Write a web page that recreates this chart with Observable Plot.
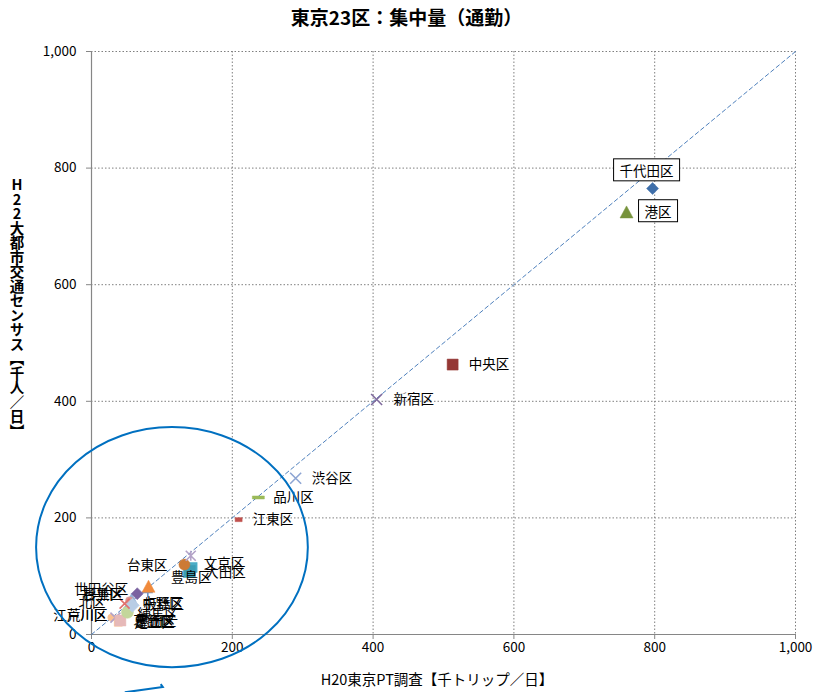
<!DOCTYPE html>
<html><head><meta charset="utf-8">
<script src="https://cdn.jsdelivr.net/npm/d3@7"></script>
<script src="https://cdn.jsdelivr.net/npm/@observablehq/plot@0.6"></script>
<style>
body{margin:0;background:#fff;font-family:"Noto Sans CJK JP","Noto Sans",sans-serif;}
#title{height:36px;line-height:34px;text-align:center;font-size:19px;font-weight:bold;color:#000;width:813px;}
#chart svg{overflow:visible;display:block;}
</style></head><body>
<div id="title">東京23区：集中量（通勤）</div>
<div id="chart"></div>
<script>
// ---- data ----
const wards = ["千代田区","中央区","港区","新宿区","文京区","台東区","墨田区","江東区","品川区","目黒区","大田区","世田谷区","渋谷区","中野区","杉並区","豊島区","北区","荒川区","板橋区","練馬区","足立区","葛飾区","江戸川区"];
const ptSurvey = [797,513,760,405,141,132,80,209,237,57,143,65,290,58,54,139,47,34,81,51,38,41,28];
const census   = [765,463,724,403,135,120,72,197,235,62,115,70,268,50,58,108,53,29,82,38,21,24,29];
const tickValues = [0,200,400,600,800,1000];
const xLabel = "H20東京PT調査【千トリップ／日】";
const yLabel = "H22大都市交通センサス【千人／日】";

const data = wards.map((ward,i)=>({ward, x: ptSurvey[i], y: census[i]}));

// ---- marker shapes ----
const S = {
  diamond: k => ({draw(c){c.moveTo(0,-k);c.lineTo(k,0);c.lineTo(0,k);c.lineTo(-k,0);c.closePath();}}),
  square: k => ({draw(c){c.rect(-k,-k,2*k,2*k);}}),
  triangle: k => ({draw(c){c.moveTo(0,-k);c.lineTo(k,k*0.85);c.lineTo(-k,k*0.85);c.closePath();}}),
  circle: k => ({draw(c){c.moveTo(k,0);c.arc(0,0,k,0,2*Math.PI);}}),
  times: k => ({draw(c){c.moveTo(-k,-k);c.lineTo(k,k);c.moveTo(k,-k);c.lineTo(-k,k);}}),
  plus: k => ({draw(c){c.moveTo(-k,0);c.lineTo(k,0);c.moveTo(0,-k);c.lineTo(0,k);}}),
  asterisk: k => ({draw(c){c.moveTo(-k,-k);c.lineTo(k,k);c.moveTo(k,-k);c.lineTo(-k,k);c.moveTo(0,-k);c.lineTo(0,k);}}),
  dash: (w,h) => ({draw(c){c.rect(-w,-h,2*w,2*h);}})
};
// [shape, filled, color]
const style = {
  "千代田区":[S.diamond(6),true,"#3F6FAA"],
  "中央区":[S.square(5.5),true,"#953735"],
  "港区":[S.triangle(6.5),true,"#77933C"],
  "新宿区":[S.times(5.5),false,"#7F6A9E"],
  "文京区":[S.asterisk(5),false,"#B3A2C7"],
  "台東区":[S.circle(5.5),true,"#CC7A35"],
  "墨田区":[S.plus(5),false,"#6E93C8"],
  "江東区":[S.dash(3.5,2),true,"#C0504D"],
  "品川区":[S.dash(6,1.5),true,"#9BBB59"],
  "目黒区":[S.triangle(5),true,"#95B3D7"],
  "大田区":[S.square(5),true,"#4BACC6"],
  "世田谷区":[S.diamond(6),true,"#7A62A0"],
  "渋谷区":[S.times(5.5),false,"#8EA5D3"],
  "中野区":[S.diamond(7),true,"#B9CDE5"],
  "杉並区":[S.circle(4),true,"#D99694"],
  "豊島区":[S.square(6),true,"#3C9DB5"],
  "北区":[S.times(5),false,"#E0706C"],
  "荒川区":[S.times(5),false,"#B3A2C7"],
  "板橋区":[S.triangle(6.5),true,"#F08A3C"],
  "練馬区":[S.circle(6),true,"#C3D69B"],
  "足立区":[S.square(4),true,"#FAC090"],
  "葛飾区":[S.square(5.5),true,"#E6B9B8"],
  "江戸川区":[S.circle(3.5),true,"#FAC090"]
};
// label placement: [anchor, dx, dy, boxed]
const place = {
  "千代田区":["middle",-6,-17,true],
  "港区":["start",18,0,true],
  "中央区":["start",16,0],
  "新宿区":["start",17,0],
  "渋谷区":["start",16,0],
  "品川区":["start",15,0],
  "江東区":["start",14,0],
  "文京区":["start",13,8],
  "台東区":["end",-17,1],
  "豊島区":["middle",2,6],
  "大田区":["start",13,5],
  "世田谷区":["end",-9,-4],
  "目黒区":["end",-9,-4],
  "杉並区":["end",-6,-6],
  "北区":["end",-19,-1],
  "中野区":["start",10,-2],
  "板橋区":["start",-5,18],
  "練馬区":["start",10,2],
  "葛飾区":["start",13,1],
  "墨田区":["start",-12,29],
  "足立区":["start",16,0],
  "荒川区":["end",-8,-2],
  "江戸川区":["end",-4,-2]
};
const drawOrder = ["大田区","目黒区","杉並区","足立区","江戸川区","荒川区","葛飾区","練馬区","中野区","北区","墨田区","板橋区","世田谷区","豊島区","台東区","文京区","江東区","品川区","渋谷区","新宿区","中央区","港区","千代田区"];

const dotMarks = drawOrder.map(w => {
  const d = data.find(e => e.ward === w);
  const [sym, filled, color] = style[w];
  return Plot.dot([d], {x:"x", y:"y", symbol: sym, r: 5,
    fill: filled ? color : "none", stroke: color, strokeWidth: filled ? 0.5 : 1.6});
});
const textMarks = data.map(d => {
  const [anchor, dx, dy, boxed] = place[d.ward];
  return Plot.text([d], {x:"x", y:"y", text:"ward", textAnchor: anchor, dx, dy,
    fontSize: 13.5, fill:"#000", className: boxed ? "boxed" : undefined});
});

// annotation ellipse (data coordinates)
const ellipse = {cx:115, cy:149, rx:193, ry:206};
const annotation = (index, {x, y}) => {
  const g = d3.create("svg:g");
  g.append("ellipse")
    .attr("cx", x(ellipse.cx)).attr("cy", y(ellipse.cy))
    .attr("rx", x(ellipse.cx + ellipse.rx) - x(ellipse.cx))
    .attr("ry", y(ellipse.cy) - y(ellipse.cy + ellipse.ry))
    .attr("fill","none").attr("stroke","#0070C0").attr("stroke-width",2);
  g.append("path")
    .attr("d", `M${x(48)},${y(-100)} L${x(102)},${y(-91)} L${x(99)},${y(-86)}`)
    .attr("fill","none").attr("stroke","#0070C0").attr("stroke-width",2);
  return g.node();
};

const diag = [0,1000];
const chart = Plot.plot({
  width: 813, height: 656,
  marginLeft: 91, marginRight: 18, marginTop: 15, marginBottom: 58,
  x: {domain:[0,1000]},
  y: {domain:[0,1000]},
  style: {fontFamily:'"Noto Sans CJK JP","Noto Sans",sans-serif', fontSize:"13px", color:"#000", background:"#fff"},
  marks: [
    Plot.gridX({ticks: tickValues.slice(1), stroke:"#7f7f7f", strokeOpacity:1, strokeDasharray:"1.5,2"}),
    Plot.gridY({ticks: tickValues.slice(1), stroke:"#7f7f7f", strokeOpacity:1, strokeDasharray:"1.5,2"}),
    Plot.axisX({ticks: tickValues, tickFormat: d3.format(","), tickSize: 5, tickPadding: 3, label: null, stroke:"#868686", fontSize: 13.5}),
    Plot.axisY({ticks: tickValues, tickFormat: d3.format(","), tickSize: 5, tickPadding: 10, label: null, stroke:"#868686", fontSize: 13.5}),
    Plot.ruleX([0], {stroke:"#868686", strokeWidth: 1.2}),
    Plot.ruleY([0], {stroke:"#868686", strokeWidth: 1.2}),
    Plot.line(diag, {x: d=>d, y: d=>d, stroke:"#4F81BD", strokeWidth: 1, strokeDasharray:"4,3"}),
    ...dotMarks,
    ...textMarks,
    annotation
  ]
});
document.getElementById("chart").appendChild(chart);

const svg = d3.select(chart);
// boxes behind boxed labels
svg.selectAll("g.boxed text").each(function(){
  const b = this.getBBox();
  d3.select(this.parentNode).insert("rect", () => this)
    .attr("transform", this.getAttribute("transform"))
    .attr("x", b.x - 6).attr("y", b.y - 1).attr("width", b.width + 12).attr("height", b.height + 2)
    .attr("fill","#fff").attr("stroke","#000").attr("stroke-width",1);
});
// axis titles
svg.append("text")
  .attr("x", 437).attr("y", 649).attr("text-anchor","middle")
  .attr("font-size", 14.5).attr("fill","#000")
  .text(xLabel);
svg.append("text")
  .attr("x", 17).attr("y", 272).attr("text-anchor","middle")
  .attr("font-size", 14.5).attr("font-weight","bold").attr("fill","#000")
  .style("writing-mode","vertical-rl").style("text-orientation","upright")
  .text(yLabel);
</script>
</body></html>
